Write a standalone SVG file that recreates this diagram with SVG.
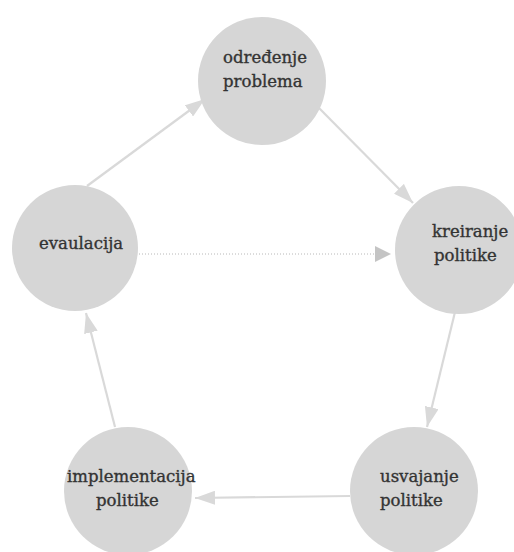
<svg xmlns="http://www.w3.org/2000/svg" width="514" height="552" viewBox="0 0 514 552">
<style>
.node circle{fill:#d6d6d6}
.node text{font-family:'DejaVu Serif','Liberation Serif',serif;font-size:16.5px;fill:#333;stroke:#333;stroke-width:0.35}
.edge{stroke:#d9d9d9;stroke-width:2.2;fill:none}
.dot{stroke:#b8b8b8;stroke-width:1;stroke-dasharray:1 2;fill:none}
</style>
<defs>
<marker id="ah" markerUnits="userSpaceOnUse" markerWidth="22" markerHeight="14" refX="20" refY="7" orient="auto">
<path d="M0,0 L20,7 L0,14 z" fill="#d9d9d9"/>
</marker>
<marker id="ahd" markerUnits="userSpaceOnUse" markerWidth="18" markerHeight="16" refX="16" refY="8" orient="auto">
<path d="M0,0 L16,8 L0,16 z" fill="#c4c4c4"/>
</marker>
</defs>
<rect width="514" height="552" fill="#fff"/>
<g id="connectors">
<line class="edge" x1="87" y1="186" x2="205" y2="99" marker-end="url(#ah)"/>
<line class="edge" x1="318" y1="107" x2="413" y2="203" marker-end="url(#ah)"/>
<line class="edge" x1="455" y1="312" x2="427" y2="427" marker-end="url(#ah)"/>
<line class="edge" x1="350" y1="496" x2="195" y2="498" marker-end="url(#ah)"/>
<line class="edge" x1="115" y1="427" x2="86" y2="313" marker-end="url(#ah)"/>
<line class="dot" x1="133" y1="254" x2="391" y2="254" marker-end="url(#ahd)"/>
</g>
<g id="odredjenje" class="node">
<circle cx="262" cy="81" r="64"/>
<text x="223" y="63">određenje</text>
<text x="223" y="87">problema</text>
</g>
<g id="kreiranje" class="node">
<circle cx="459" cy="250" r="64"/>
<text x="432" y="237">kreiranje</text>
<text x="434" y="261">politike</text>
</g>
<g id="usvajanje" class="node">
<circle cx="414" cy="491" r="64"/>
<text x="380" y="482">usvajanje</text>
<text x="380" y="506">politike</text>
</g>
<g id="implementacija" class="node">
<circle cx="128" cy="491" r="64"/>
<text x="67" y="482">implementacija</text>
<text x="96" y="506">politike</text>
</g>
<g id="evaluacija" class="node">
<circle cx="75" cy="248" r="63"/>
<text x="39" y="249">evaulacija</text>
</g>
</svg>
